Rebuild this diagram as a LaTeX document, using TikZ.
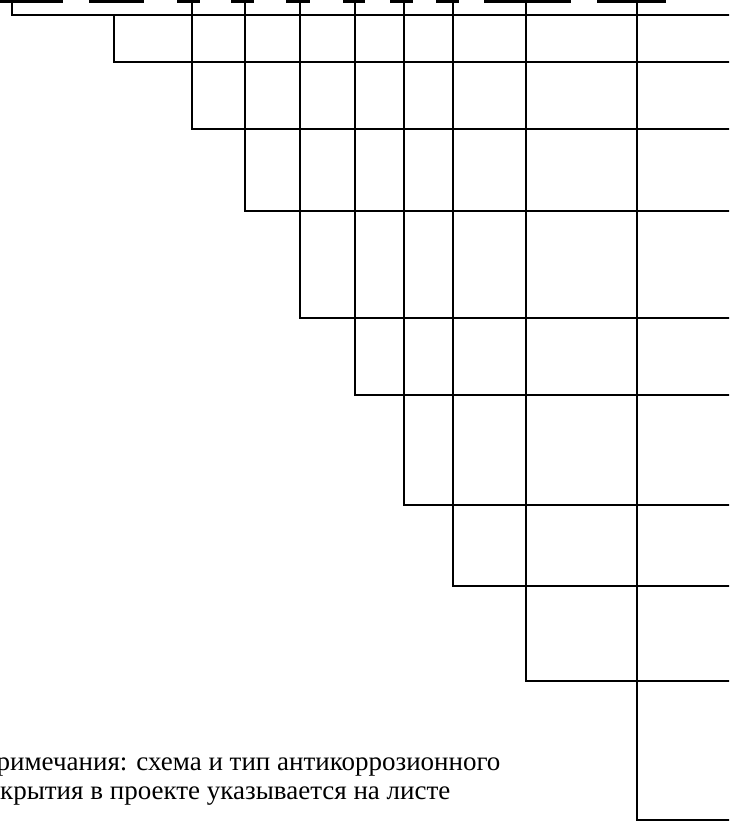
\documentclass[tikz,border=0pt]{standalone}
\usepackage{fontspec}
\setmainfont{Liberation Serif}
\begin{document}
\begin{tikzpicture}[x=1pt,y=-1pt,
  wire/.style={line width=1.3pt,line cap=rect},
  bar/.style={fill=black,draw=none},
  note/.style={inner sep=0pt,anchor=base west,font=\fontsize{27}{29}\selectfont}]
\useasboundingbox (0,0) rectangle (729,821);
\clip (0,0) rectangle (729,821);
% top bars (cut-off table underlines)
\foreach \a/\b in {-5/63,89/144,177/200,231/254,286/310,343/365,390/413,436/459,484/571,597/666}
  \fill[bar] (\a,-2) rectangle (\b,3);
% coordinates
\coordinate (v1t) at (12,2);   \coordinate (h1) at (12,15);   \coordinate (r1) at (731,15);
\coordinate (v2t) at (114,15); \coordinate (h2) at (114,62);  \coordinate (r2) at (731,62);
\coordinate (v3t) at (192,2);  \coordinate (h3) at (192,129); \coordinate (r3) at (731,129);
\coordinate (v4t) at (245,2);  \coordinate (h4) at (245,211); \coordinate (r4) at (731,211);
\coordinate (v5t) at (300,2);  \coordinate (h5) at (300,318); \coordinate (r5) at (731,318);
\coordinate (v6t) at (355,2);  \coordinate (h6) at (355,395); \coordinate (r6) at (731,395);
\coordinate (v7t) at (404,2);  \coordinate (h7) at (404,505); \coordinate (r7) at (731,505);
\coordinate (v8t) at (453,2);  \coordinate (h8) at (453,586); \coordinate (r8) at (731,586);
\coordinate (v9t) at (526,2);  \coordinate (h9) at (526,681); \coordinate (r9) at (731,681);
\coordinate (v10t) at (637,2); \coordinate (h10) at (637,820); \coordinate (r10) at (731,820);
\foreach \i in {1,...,10}
  \draw[wire] (v\i t) -- (h\i) -- (r\i);
% note text (cut at the left edge, as in the reference)
\node[note] (n1) at (-23,770) {Примечания: схема и тип антикоррозионного};
\node[note] (n2) at (-28,799) {покрытия в проекте указывается на листе};
\end{tikzpicture}
\end{document}
